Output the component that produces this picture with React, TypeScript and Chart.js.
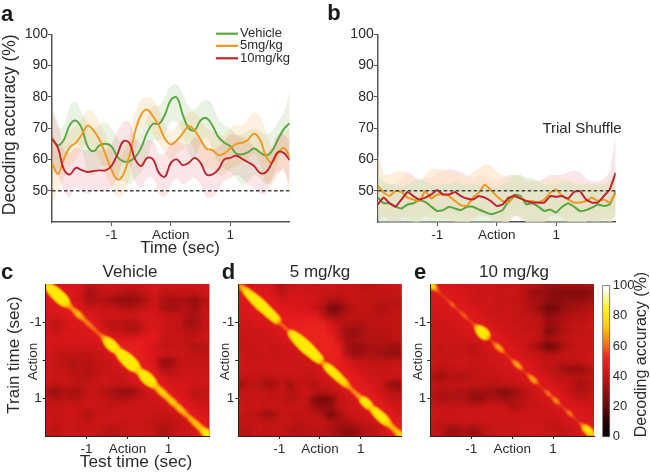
import React, { useEffect, useRef } from "react";
import { Chart, registerables } from "chart.js";

Chart.register(...registerables);

const FONT = "'Liberation Sans', Arial, sans-serif";
const INK = "#2b2b2b";

const times = [-2, -1.9, -1.8, -1.7, -1.6, -1.5, -1.4, -1.3, -1.2, -1.1, -1, -0.9, -0.8, -0.7, -0.6, -0.5, -0.4, -0.3, -0.2, -0.1, 0, 0.1, 0.2, 0.3, 0.4, 0.5, 0.6, 0.7, 0.8, 0.9, 1, 1.1, 1.2, 1.3, 1.4, 1.5, 1.6, 1.7, 1.8, 1.9, 2];
const chance = [50, 50];
const chanceTimes = [-2, 2];
const timeTicks = [-1, 0, 1];
const timeTickLabels = ["-1", "Action", "1"];
const accuracyTicks = [50, 60, 70, 80, 90, 100];
const colorbarTicks = [0, 20, 40, 60, 80, 100];

const seriesNames = ["Vehicle", "5mg/kg", "10mg/kg"];
const seriesColors = ["#58a63f", "#f0981f", "#bf2430"];
const bandColorsA = ["rgba(105,175,75,0.15)", "rgba(250,170,80,0.18)", "rgba(225,70,80,0.14)"];
const bandColorsB = ["rgba(205,228,190,0.5)", "rgba(253,226,196,0.62)", "rgba(240,170,185,0.3)"];

const aVehicle = [66.7, 64.5, 66.3, 71, 72.4, 70, 64.2, 62.6, 64.5, 65, 64.2, 60.8, 59.4, 59.4, 60.7, 63.7, 68.5, 71.4, 71.3, 74.3, 79, 79.8, 74.3, 70, 69.3, 72.5, 73.2, 70.8, 67.2, 65.3, 64.2, 61.9, 61.6, 62.3, 63.5, 62.3, 61.2, 62.6, 66.3, 69.7, 71.6];
const aVehicleUpper = [79, 70, 71, 77, 78.5, 75, 72, 70, 71, 72, 70, 67, 65, 65, 66, 69, 73, 77, 77, 80, 83.5, 84, 81, 77, 76, 78, 79, 77.5, 73, 71, 70, 68, 68, 69, 70, 69, 68, 69, 72, 75, 82];
const aVehicleLower = [55, 57, 60, 64, 65, 63, 56, 55, 57, 58, 56, 53, 53, 52, 54, 56, 60, 66, 66, 68, 72, 72, 68, 62, 60, 65, 67, 63, 59, 57, 56, 54, 52, 53, 55, 54, 52, 54, 59, 63, 60];
const a5mg = [58.9, 55.4, 60.2, 63.9, 65.3, 67.9, 70.8, 69.2, 66.3, 61.6, 56.8, 53.6, 55.2, 61, 69, 74.3, 75.9, 73.8, 70.8, 66.6, 64.8, 66.1, 68.3, 70.6, 69.3, 66.3, 63.4, 63, 61.4, 61.9, 63.5, 65, 65.3, 66.3, 68.2, 66.3, 61, 58.9, 61.9, 63.7, 61];
const a5mgUpper = [70, 63, 66, 69, 71, 73, 76, 75, 72, 68, 63, 60, 62, 68, 75, 79, 80, 79, 76, 71, 69, 71, 73, 75, 75, 73, 70, 69, 68, 68, 70, 71, 71, 73, 75, 74, 69, 64, 67, 69, 70];
const a5mgLower = [46, 50, 54, 58, 60, 63, 65, 63, 60, 55, 51, 48, 49, 54, 63, 69, 71, 68, 65, 62, 60, 62, 63, 66, 63, 60, 57, 57, 55, 55, 57, 58, 59, 60, 62, 59, 53, 52, 55, 57, 47];
const a10mg = [66.7, 63.7, 56.8, 55.2, 57.3, 56.6, 56, 56.3, 56.5, 56.5, 57.9, 61.6, 65.8, 65.3, 60, 57.9, 60.5, 60, 55.7, 54.5, 58.9, 60, 58.2, 58.9, 60.5, 58.9, 55.2, 55.2, 56.8, 60, 60.5, 61.2, 60.2, 59.1, 57.9, 55.7, 55.9, 58.9, 62.3, 62.1, 59.8];
const a10mgUpper = [75, 72, 63, 62, 64, 63, 63, 63, 63, 63, 65, 69, 72, 72, 67, 65, 66, 66, 62, 62, 65, 66, 65, 65, 67, 66, 63, 63, 64, 66, 68, 68, 67, 66, 64, 62, 62, 64, 68, 68, 66];
const a10mgLower = [58, 55, 50, 48, 51, 50, 49, 50, 50, 50, 51, 54, 59, 58, 53, 51, 54, 54, 49, 48, 52, 54, 52, 53, 54, 52, 48, 48, 50, 53, 54, 55, 54, 52, 51, 49, 49, 53, 56, 56, 52];

const bVehicle = [47.8, 46, 46, 44.9, 44.3, 45.6, 46, 47, 46.4, 44.9, 43.5, 43.8, 44.9, 44.3, 43.8, 44.9, 44.9, 44, 43.2, 42.5, 43, 43.8, 46.7, 48.8, 48.3, 45.6, 46, 44.9, 43.5, 44, 43, 44.9, 46, 44.9, 43.5, 43.8, 44.6, 45.6, 45.1, 45.6, 49.9];
const bVehicleUpper = [55, 53, 52, 52, 51, 52, 53, 54, 53, 52, 52, 52, 52, 53, 52, 52, 52, 52, 51, 51, 51, 52, 53, 55, 55, 54, 54, 53, 52, 52, 52, 53, 53, 52, 52, 52, 52, 52, 52, 53, 57];
const bVehicleLower = [38, 38, 38, 38, 38, 38, 39, 40, 39, 38, 37, 37, 38, 37, 37, 38, 38, 37, 37, 36, 37, 37, 40, 42, 42, 40, 40, 39, 38, 38, 37, 39, 40, 39, 37, 38, 39, 40, 39, 39, 42];
const b5mg = [51.7, 49.4, 48.3, 49.9, 49.6, 47.8, 47.2, 46.7, 49.9, 47.5, 48.8, 48.8, 48.3, 46.7, 45.3, 45.1, 47.8, 49.4, 52, 50.2, 48.3, 46.7, 46.2, 48.3, 47.8, 46.7, 46.7, 46.2, 47.2, 49.4, 50.4, 48.3, 47.2, 46.2, 46.2, 46.7, 47.8, 46.7, 47.2, 46.2, 49.4];
const b5mgUpper = [62, 55.5, 55, 56, 56.5, 55.5, 54, 53, 55, 57, 57, 57, 56, 56, 55, 54, 56, 57, 58.5, 58, 56, 55, 54, 55, 55, 53, 53, 53, 53, 54, 54, 54, 54, 53, 53, 52, 52, 52, 53, 53, 55];
const b5mgLower = [42, 42, 42, 42, 42, 41, 40, 40, 42, 41, 41, 41, 41, 40, 39, 39, 41, 42, 44, 43, 41, 40, 40, 42, 42, 40, 40, 40, 40, 42, 43, 41, 40, 40, 40, 40, 41, 40, 41, 40, 42];
const b10mg = [45.6, 47.8, 46, 44.9, 47.2, 49.6, 48.3, 47.2, 47.8, 48.8, 50.2, 48.8, 48.8, 49.6, 48.3, 47.5, 47.2, 48.3, 47.8, 46.7, 45.1, 45.6, 47.8, 48.3, 47.5, 46.7, 46.2, 46.2, 46.2, 48.3, 48.1, 48.3, 47.5, 49.6, 49.9, 47.2, 46.2, 46.2, 48.3, 50.4, 55.7];
const b10mgUpper = [50, 52, 52, 52, 54, 56, 55, 53, 54, 54, 56, 56, 57, 56.5, 56, 55, 54, 55, 55, 54, 53, 54, 55, 55, 54, 53, 53, 53, 54, 55, 55, 55, 56, 56.5, 56, 54, 53, 53, 54, 56, 68];
const b10mgLower = [40, 42, 40, 39, 41, 43, 42, 41, 42, 43, 44, 43, 43, 43, 42, 41, 41, 42, 42, 41, 39, 40, 42, 42, 41, 40, 40, 40, 40, 42, 42, 42, 41, 43, 43, 41, 40, 40, 42, 44, 43];

const vehicleMatrix = [
  [46, 46, 47, 47, 45, 38, 40, 44, 44, 42, 42, 43, 44, 46, 44, 44, 44, 44, 44, 45],
  [50, 50, 47, 47, 45, 33, 39, 42, 40, 38, 37, 38, 42, 46, 40, 40, 41, 42, 40, 44],
  [47, 50, 50, 47, 45, 35, 38, 36, 32, 30, 30, 32, 38, 44, 36, 33, 36, 34, 30, 38],
  [47, 47, 50, 50, 47, 44, 43, 42, 42, 38, 38, 40, 42, 44, 36, 34, 36, 38, 33, 40],
  [46, 46, 48, 50, 50, 47, 46, 44, 46, 45, 45, 46, 48, 46, 44, 42, 42, 36, 36, 42],
  [42, 38, 44, 47, 48, 50, 48, 40, 38, 38, 36, 38, 46, 46, 44, 42, 42, 33, 34, 42],
  [44, 42, 46, 47, 46, 48, 50, 46, 40, 42, 37, 38, 46, 48, 44, 42, 42, 38, 38, 42],
  [46, 46, 46, 47, 46, 46, 48, 51, 50, 48, 48, 50, 50, 50, 42, 42, 44, 40, 42, 44],
  [46, 44, 44, 44, 44, 44, 44, 48, 51, 52, 52, 52, 50, 44, 42, 40, 43, 40, 36, 38],
  [44, 42, 40, 42, 40, 40, 42, 44, 50, 52, 52, 52, 50, 46, 44, 44, 44, 42, 40, 40],
  [44, 42, 40, 36, 40, 38, 42, 42, 44, 50, 52, 52, 50, 46, 30, 32, 40, 42, 42, 42],
  [44, 42, 42, 38, 40, 37, 40, 42, 44, 46, 50, 52, 52, 48, 36, 38, 42, 44, 44, 42],
  [44, 42, 44, 40, 38, 38, 42, 44, 42, 42, 46, 50, 52, 52, 46, 42, 44, 44, 44, 44],
  [42, 40, 42, 42, 40, 42, 44, 44, 42, 42, 44, 46, 50, 52, 50, 46, 46, 46, 44, 44],
  [34, 31, 38, 34, 36, 42, 40, 36, 34, 30, 30, 36, 44, 46, 50, 50, 46, 44, 38, 40],
  [40, 38, 40, 38, 40, 44, 42, 42, 38, 38, 40, 42, 44, 44, 46, 50, 50, 46, 42, 42],
  [42, 42, 44, 44, 42, 44, 44, 42, 42, 44, 44, 44, 44, 42, 44, 46, 50, 50, 46, 44],
  [42, 42, 42, 44, 40, 36, 42, 42, 44, 44, 44, 44, 44, 42, 40, 42, 44, 50, 50, 46],
  [44, 42, 44, 44, 42, 42, 44, 44, 44, 42, 44, 44, 42, 40, 40, 40, 42, 44, 50, 50],
  [40, 38, 42, 42, 42, 42, 42, 38, 36, 40, 42, 42, 42, 40, 34, 38, 42, 44, 46, 50],
];
const mg5Matrix = [
  [50, 46, 46, 46, 44, 36, 42, 44, 42, 42, 42, 44, 42, 42, 42, 38, 38, 40, 42, 42],
  [50, 50, 50, 48, 46, 38, 46, 46, 44, 46, 42, 42, 42, 42, 44, 42, 42, 42, 42, 42],
  [48, 50, 50, 50, 48, 46, 46, 46, 46, 44, 40, 36, 36, 40, 42, 42, 40, 38, 40, 38],
  [46, 48, 50, 50, 50, 50, 48, 46, 46, 42, 36, 24, 26, 36, 40, 42, 40, 36, 38, 40],
  [46, 46, 48, 50, 50, 50, 50, 50, 50, 50, 42, 34, 34, 40, 40, 40, 40, 38, 40, 40],
  [44, 44, 46, 46, 48, 52, 52, 52, 54, 54, 54, 46, 42, 38, 38, 38, 40, 40, 42, 40],
  [44, 44, 44, 44, 46, 48, 52, 54, 54, 54, 54, 50, 40, 32, 30, 36, 38, 38, 38, 40],
  [42, 44, 44, 44, 44, 46, 48, 52, 54, 54, 54, 54, 44, 34, 36, 38, 38, 38, 40, 40],
  [42, 42, 44, 44, 42, 44, 44, 46, 52, 54, 54, 54, 52, 34, 32, 32, 36, 36, 34, 32],
  [44, 42, 42, 44, 42, 42, 44, 44, 46, 50, 54, 54, 52, 38, 30, 34, 36, 34, 32, 30],
  [44, 42, 44, 42, 44, 44, 44, 44, 44, 46, 50, 54, 52, 48, 44, 42, 40, 40, 40, 42],
  [44, 44, 44, 44, 44, 44, 44, 44, 44, 44, 46, 50, 52, 50, 46, 44, 42, 42, 42, 44],
  [42, 42, 42, 40, 42, 42, 42, 44, 40, 44, 44, 46, 50, 52, 50, 46, 44, 44, 44, 42],
  [32, 40, 38, 34, 33, 42, 32, 42, 40, 36, 44, 42, 46, 50, 52, 48, 46, 44, 34, 28],
  [42, 42, 42, 42, 40, 42, 38, 40, 44, 40, 38, 40, 44, 46, 50, 52, 48, 44, 40, 38],
  [42, 42, 42, 42, 42, 42, 36, 42, 42, 26, 24, 26, 40, 44, 46, 50, 52, 48, 44, 42],
  [44, 42, 44, 42, 42, 44, 42, 44, 40, 34, 32, 32, 42, 44, 44, 46, 50, 52, 48, 44],
  [42, 40, 38, 32, 34, 42, 42, 40, 42, 40, 36, 24, 34, 42, 44, 44, 46, 50, 52, 46],
  [40, 42, 42, 42, 40, 42, 42, 38, 40, 42, 42, 38, 36, 36, 40, 42, 42, 46, 50, 52],
  [38, 38, 42, 40, 42, 40, 38, 36, 38, 38, 38, 36, 32, 28, 30, 36, 38, 42, 46, 50],
];
const mg10Matrix = [
  [50, 46, 46, 46, 44, 44, 44, 44, 42, 42, 42, 40, 38, 36, 32, 30, 34, 34, 32, 34],
  [47, 50, 48, 46, 46, 44, 42, 44, 42, 44, 42, 40, 32, 32, 30, 28, 26, 26, 26, 28],
  [46, 47, 50, 48, 46, 44, 44, 46, 42, 42, 42, 40, 36, 36, 30, 30, 32, 32, 32, 34],
  [46, 46, 47, 50, 48, 46, 44, 44, 42, 44, 42, 40, 36, 30, 22, 24, 32, 34, 36, 38],
  [44, 46, 46, 47, 50, 48, 46, 44, 44, 44, 42, 42, 40, 38, 30, 34, 36, 38, 38, 40],
  [42, 44, 44, 46, 47, 50, 48, 46, 44, 44, 42, 42, 42, 40, 32, 34, 38, 40, 40, 42],
  [44, 44, 44, 44, 46, 47, 50, 48, 46, 44, 44, 42, 42, 40, 26, 30, 38, 40, 42, 42],
  [44, 44, 44, 44, 44, 46, 47, 50, 48, 46, 44, 44, 44, 40, 36, 38, 40, 42, 42, 42],
  [42, 40, 42, 44, 42, 38, 44, 46, 50, 48, 46, 44, 36, 32, 20, 26, 36, 40, 42, 42],
  [42, 42, 44, 42, 42, 40, 42, 44, 46, 50, 48, 44, 44, 42, 38, 38, 42, 42, 42, 44],
  [44, 42, 42, 44, 44, 42, 44, 44, 44, 46, 50, 48, 46, 42, 42, 42, 40, 42, 42, 44],
  [42, 40, 40, 42, 42, 40, 42, 42, 44, 44, 46, 50, 48, 44, 40, 38, 32, 30, 30, 36],
  [36, 32, 38, 36, 36, 40, 42, 42, 42, 44, 44, 46, 50, 48, 44, 42, 40, 40, 38, 40],
  [42, 40, 42, 42, 42, 42, 42, 38, 40, 42, 42, 44, 46, 50, 48, 44, 42, 40, 34, 38],
  [38, 36, 38, 36, 36, 32, 34, 34, 30, 26, 32, 38, 42, 46, 50, 48, 44, 40, 36, 40],
  [38, 36, 36, 38, 36, 30, 30, 38, 36, 34, 36, 40, 42, 44, 46, 50, 48, 44, 42, 42],
  [44, 42, 42, 42, 42, 42, 44, 44, 44, 42, 36, 40, 42, 42, 44, 46, 50, 48, 46, 44],
  [44, 44, 44, 44, 44, 44, 44, 44, 44, 44, 44, 44, 44, 44, 44, 44, 46, 50, 48, 46],
  [42, 40, 42, 42, 44, 42, 44, 44, 44, 44, 44, 44, 44, 44, 42, 42, 44, 46, 50, 48],
  [40, 38, 32, 32, 36, 30, 36, 40, 42, 42, 42, 44, 44, 44, 42, 40, 40, 42, 46, 50],
];

// Accuracy along the train = test diagonal, one value every 0.05 s.
const vehicleDiagonal = [66, 74, 80, 84, 86, 88, 88, 88, 88, 86, 78, 72, 68, 66, 68, 70, 72, 70, 68, 66, 64, 66, 64, 62, 62, 60, 60, 62, 66, 72, 78, 84, 85, 84, 82, 76, 78, 84, 87, 89, 90, 90, 90, 88, 82, 76, 74, 78, 84, 87, 87, 86, 82, 76, 72, 72, 74, 74, 74, 72, 72, 72, 74, 72, 70, 72, 72, 70, 70, 68, 68, 70, 70, 72, 72, 72, 72, 74, 78, 80, 82];
const mg5Diagonal = [60, 64, 70, 72, 76, 78, 80, 82, 84, 85, 86, 86, 86, 85, 84, 84, 82, 82, 80, 78, 66, 60, 60, 60, 60, 64, 76, 80, 84, 86, 87, 88, 89, 89, 89, 88, 86, 86, 84, 82, 78, 68, 66, 74, 78, 80, 80, 80, 80, 78, 78, 76, 76, 72, 68, 66, 64, 66, 66, 68, 68, 76, 80, 80, 78, 72, 74, 78, 80, 82, 82, 82, 80, 76, 72, 70, 70, 70, 72, 74, 76];
const mg10Diagonal = [76, 76, 72, 66, 60, 56, 56, 56, 57, 58, 62, 64, 60, 57, 57, 60, 63, 63, 60, 57, 57, 59, 64, 72, 80, 85, 87, 83, 70, 58, 56, 60, 66, 70, 70, 68, 60, 56, 56, 56, 60, 66, 70, 70, 68, 60, 56, 56, 62, 68, 70, 70, 64, 56, 55, 55, 58, 64, 66, 60, 62, 68, 68, 60, 56, 56, 58, 62, 66, 64, 58, 55, 55, 57, 62, 70, 76, 78, 78, 74, 68];

const colorbarLevels = [0, 2, 4, 6, 8, 10, 12, 14, 16, 18, 20, 22, 24, 26, 28, 30, 32, 34, 36, 38, 40, 42, 44, 46, 48, 50, 52, 54, 56, 58, 60, 62, 64, 66, 68, 70, 72, 74, 76, 78, 80, 82, 84, 86, 88, 90, 92, 94, 96, 98, 100];

const colorStops: [number, number, number, number][] = [
  [0, 0, 0, 0], [10, 32, 0, 0], [20, 90, 8, 8], [30, 140, 16, 16], [40, 192, 22, 22], [50, 232, 28, 32],
  [55, 238, 42, 32], [60, 245, 90, 24], [66, 251, 140, 20], [75, 255, 204, 0], [83, 255, 234, 0], [90, 255, 244, 96], [100, 255, 255, 255],
];
function heat(v: number) {
  for (let i = 1; i < colorStops.length; i++) {
    const [b, r1, g1, b1] = colorStops[i];
    if (v <= b) {
      const [a, r0, g0, b0] = colorStops[i - 1];
      const f = (v - a) / (b - a);
      return `rgb(${Math.round(r0 + (r1 - r0) * f)},${Math.round(g0 + (g1 - g0) * f)},${Math.round(b0 + (b1 - b0) * f)})`;
    }
  }
  return "#fff";
}
const ridgeRadius = (v: number, thin: boolean) => thin
  ? 1.2 + Math.pow(Math.max(v - 55, 0) / 32, 2) * 3.6
  : 1.7 + Math.pow(Math.max(v - 58, 0) / 32, 2) * 3.8;

type Note = { text: string; x: number; y: number; size: number; bold?: boolean; rotate?: boolean };

const notesPlugin = (notes: Note[]) => ({
  id: "notes",
  afterDraw(chart: any) {
    const ctx = chart.ctx;
    for (const n of notes) {
      ctx.save();
      ctx.font = `${n.bold ? "bold " : ""}${n.size}px ${FONT}`;
      ctx.fillStyle = n.bold ? "#1a1a1a" : INK;
      ctx.textAlign = "center";
      ctx.textBaseline = "middle";
      ctx.translate(n.x, n.y);
      if (n.rotate) ctx.rotate(-Math.PI / 2);
      ctx.fillText(n.text, 0, 0);
      ctx.restore();
    }
  },
});

const lineLegendPlugin = {
  id: "lineLegend",
  afterDraw(chart: any) {
    const ctx = chart.ctx;
    const rows = [33.7, 45.9, 58.3];
    seriesNames.forEach((name, i) => {
      ctx.save();
      ctx.strokeStyle = seriesColors[i];
      ctx.lineWidth = 2.2;
      ctx.beginPath();
      ctx.moveTo(216, rows[i]);
      ctx.lineTo(238, rows[i]);
      ctx.stroke();
      ctx.font = `13px ${FONT}`;
      ctx.fillStyle = INK;
      ctx.textBaseline = "middle";
      ctx.fillText(name, 240, rows[i]);
      ctx.restore();
    });
  },
};

const blurPlugin = {
  id: "cellBlur",
  beforeDraw(chart: any) {
    const a = chart.chartArea;
    chart.ctx.fillStyle = "#c41a1c";
    chart.ctx.fillRect(a.left, a.top, a.right - a.left, a.bottom - a.top);
  },
  beforeDatasetDraw(chart: any, args: any) {
    chart.ctx.filter = `blur(${chart.data.datasets[args.index].blurPx}px)`;
  },
  afterDatasetDraw(chart: any) {
    chart.ctx.filter = "none";
  },
};

const frameTicks = (names: string[]) => ({
  afterBuildTicks(scale: any) {
    scale.ticks = timeTicks.map((value) => ({ value }));
  },
  ticks: {
    autoSkip: false,
    maxRotation: 0,
    minRotation: 0,
    color: INK,
    font: { family: FONT, size: 13.5 },
    callback: (v: number) => names[timeTicks.indexOf(v)],
  },
});

function lineConfig(series: { line: number[]; upper: number[]; lower: number[] }[], opts: { left: number; right: number; width: number; tension: number; borderW: number; bandColors: string[]; bandOrder: number[]; yTitle?: string; plugins: any[] }) {
  const pts = (vals: number[]) => vals.map((y, i) => ({ x: times[i], y }));
  const lines = [2, 1, 0].map((i) => ({
    label: seriesNames[i],
    data: pts(series[i].line),
    borderColor: seriesColors[i],
    borderWidth: opts.borderW,
    pointRadius: 0,
    tension: opts.tension,
    fill: false,
  }));
  const bands = opts.bandOrder.flatMap((i) => [
    { label: seriesNames[i] + " upper", data: pts(series[i].upper), borderWidth: 0, pointRadius: 0, tension: opts.tension, fill: "+1", backgroundColor: opts.bandColors[i] },
    { label: seriesNames[i] + " lower", data: pts(series[i].lower), borderWidth: 0, pointRadius: 0, tension: opts.tension, fill: false },
  ]);
  const dashed = {
    label: "Chance",
    data: chance.map((y, i) => ({ x: chanceTimes[i], y })),
    borderColor: "#444",
    borderWidth: 1.6,
    borderDash: [3.5, 2.5],
    pointRadius: 0,
    fill: false,
  };
  return {
    type: "line",
    data: { datasets: [dashed, ...lines, ...bands] },
    options: {
      animation: false,
      responsive: false,
      events: [],
      layout: { autoPadding: false, padding: { top: 34.3, right: opts.width - opts.right, left: 0, bottom: 0 } },
      plugins: { legend: { display: false }, tooltip: { enabled: false } },
      scales: {
        x: {
          type: "linear",
          min: -2,
          max: 2,
          afterFit: (s: any) => { s.height = 40; },
          ...frameTicks(timeTickLabels),
          ticks: { ...frameTicks(timeTickLabels).ticks, padding: 1 },
          grid: { drawOnChartArea: false, tickLength: 4, tickColor: "#555" },
          border: { color: "#555", width: 1.5 },
        },
        y: {
          min: 40,
          max: 100,
          afterFit: (s: any) => { s.width = opts.left; },
          afterBuildTicks(scale: any) { scale.ticks = accuracyTicks.map((value) => ({ value })); },
          ticks: { color: INK, padding: 0, font: { family: FONT, size: 14 } },
          grid: { drawOnChartArea: false, tickLength: 4, tickColor: "#555" },
          border: { color: "#555", width: 1.5 },
          title: opts.yTitle
            ? { display: true, text: opts.yTitle, align: "end", color: INK, font: { family: FONT, size: 17.5 }, padding: { top: 0, bottom: 3.5 } }
            : { display: false },
        },
      },
    },
    plugins: opts.plugins,
  };
}

function heatConfig(matrix: number[][], diagonal: number[], left: number, width: number, right: number, notes: Note[], thin = false) {
  const cells: { x: number; y: number }[] = [];
  const cellColors: string[] = [];
  matrix.forEach((row, r) => row.forEach((v, c) => {
    cells.push({ x: -1.9 + c * 0.2, y: -1.9 + r * 0.2 });
    cellColors.push(heat(v));
  }));
  const ridge = diagonal.map((_, i) => ({ x: -2 + i * 0.05, y: -2 + i * 0.05 }));
  return {
    type: "scatter",
    data: {
      datasets: [
        { label: "diagonal core", data: ridge, clip: 0, blurPx: 0.8, pointStyle: "circle", pointBorderWidth: 0, pointRadius: diagonal.map((v) => ridgeRadius(v, thin)), pointBackgroundColor: diagonal.map((v) => heat(Math.min(v + 3, 83))) },
        { label: "diagonal edge", data: ridge, clip: 0, blurPx: 1.2, pointStyle: "circle", pointBorderWidth: 0, pointRadius: diagonal.map((v) => ridgeRadius(v, thin) + 1.1), pointBackgroundColor: diagonal.map((v) => heat(Math.min(v - 12, 66))) },
        { label: "accuracy", data: cells, clip: 0, blurPx: 3, pointStyle: "rect", pointBorderWidth: 0, pointRadius: 7.5, pointBackgroundColor: cellColors },
      ],
    },
    options: {
      animation: false,
      responsive: false,
      events: [],
      layout: { autoPadding: false, padding: { top: 22, right: width - right, left: 0, bottom: 0 } },
      plugins: { legend: { display: false }, tooltip: { enabled: false } },
      scales: {
        x: {
          type: "linear",
          min: -2,
          max: 2,
          afterFit: (s: any) => { s.height = 37; },
          ...frameTicks(timeTickLabels),
          ticks: { ...frameTicks(timeTickLabels).ticks, padding: 2 },
          grid: { drawOnChartArea: false, tickLength: 3, tickColor: "#222", z: 1 },
          border: { color: "#222", width: 1, z: 1 },
        },
        y: {
          type: "linear",
          min: -2,
          max: 2,
          reverse: true,
          afterFit: (s: any) => { s.width = left; },
          ...frameTicks(["-1", "", "1"]),
          ticks: { ...frameTicks(["-1", "", "1"]).ticks, padding: 1 },
          grid: { drawOnChartArea: false, tickLength: 3, tickColor: "#222", z: 1 },
          border: { color: "#222", width: 1, z: 1 },
        },
      },
    },
    plugins: [blurPlugin, notesPlugin(notes)],
  };
}

function colorbarConfig(notes: Note[]) {
  return {
    type: "scatter",
    data: {
      datasets: [{
        label: "Decoding accuracy (%)",
        data: colorbarLevels.map((y) => ({ x: 0, y })),
        clip: 0,
        pointStyle: "rect",
        pointBorderWidth: 0,
        pointRadius: 5,
        pointBackgroundColor: colorbarLevels.map((v) => heat(v)),
      }],
    },
    options: {
      animation: false,
      responsive: false,
      events: [],
      layout: { autoPadding: false, padding: { top: 23.7, left: 6.7, right: 0, bottom: 36.3 } },
      plugins: { legend: { display: false }, tooltip: { enabled: false } },
      scales: {
        x: { display: false, min: -1, max: 1 },
        y: {
          position: "right",
          min: 0,
          max: 100,
          afterFit: (s: any) => { s.width = 40.3; },
          afterBuildTicks(scale: any) { scale.ticks = colorbarTicks.map((value) => ({ value })); },
          ticks: { color: INK, padding: 3, font: { family: FONT, size: 13 } },
          grid: { display: false, drawTicks: false },
          border: { display: false },
        },
      },
    },
    plugins: [
      notesPlugin(notes),
      {
        id: "barFrame",
        afterDatasetsDraw(chart: any) {
          const a = chart.chartArea;
          chart.ctx.save();
          chart.ctx.strokeStyle = "#666";
          chart.ctx.lineWidth = 0.8;
          chart.ctx.strokeRect(a.left, a.top, a.right - a.left, a.bottom - a.top);
          chart.ctx.restore();
        },
      },
    ],
  };
}

const boxes = [
  { left: 0, top: 0, width: 310, height: 262 },
  { left: 320, top: 0, width: 310, height: 262 },
  { left: 0, top: 262, width: 214, height: 211 },
  { left: 214, top: 262, width: 192, height: 211 },
  { left: 408, top: 262, width: 192, height: 211 },
  { left: 596, top: 262, width: 54, height: 211 },
];

export default function App() {
  const refs = useRef<(HTMLCanvasElement | null)[]>([]);

  useEffect(() => {
    const configs: any[] = [
      lineConfig(
        [
          { line: aVehicle, upper: aVehicleUpper, lower: aVehicleLower },
          { line: a5mg, upper: a5mgUpper, lower: a5mgLower },
          { line: a10mg, upper: a10mgUpper, lower: a10mgLower },
        ],
        {
          left: 52, right: 289.7, width: 310, tension: 0.4, borderW: 1.9, bandColors: bandColorsA, bandOrder: [2, 1, 0], yTitle: "Decoding accuracy (%)",
          plugins: [lineLegendPlugin, notesPlugin([
            { text: "a", x: 7, y: 14.5, size: 22, bold: true },
            { text: "Time (sec)", x: 180, y: 248, size: 17 },
          ])],
        },
      ),
      lineConfig(
        [
          { line: bVehicle, upper: bVehicleUpper, lower: bVehicleLower },
          { line: b5mg, upper: b5mgUpper, lower: b5mgLower },
          { line: b10mg, upper: b10mgUpper, lower: b10mgLower },
        ],
        {
          left: 57.7, right: 295.7, width: 310, tension: 0.1, borderW: 2, bandColors: bandColorsB, bandOrder: [0, 1, 2],
          plugins: [notesPlugin([
            { text: "b", x: 14, y: 14, size: 22, bold: true },
            { text: "Trial Shuffle", x: 262, y: 128.7, size: 15 },
          ])],
        },
      ),
      heatConfig(vehicleMatrix, vehicleDiagonal, 45.7, 214, 209.3, [
        { text: "c", x: 7, y: 10.5, size: 22, bold: true },
        { text: "Vehicle", x: 130, y: 10, size: 17 },
        { text: "Train time (sec)", x: 14, y: 93, size: 17, rotate: true },
        { text: "Action", x: 33.3, y: 99.5, size: 13.5, rotate: true },
        { text: "Test time (sec)", x: 136, y: 200.7, size: 17.3 },
      ]),
      heatConfig(mg5Matrix, mg5Diagonal, 24.3, 192, 187.7, [
        { text: "d", x: 14.5, y: 10.5, size: 22, bold: true },
        { text: "5 mg/kg", x: 106, y: 10, size: 17 },
        { text: "Action", x: 11, y: 99.5, size: 13.5, rotate: true },
      ]),
      heatConfig(mg10Matrix, mg10Diagonal, 22.3, 192, 186, [
        { text: "e", x: 12, y: 10.5, size: 22, bold: true },
        { text: "10 mg/kg", x: 106, y: 10, size: 17 },
        { text: "Action", x: 10, y: 99.5, size: 13.5, rotate: true },
      ], true),
      colorbarConfig([{ text: "Decoding accuracy (%)", x: 45.7, y: 92.5, size: 16, rotate: true }]),
    ];
    const charts = configs.map((cfg, i) => new Chart(refs.current[i] as HTMLCanvasElement, cfg));
    return () => charts.forEach((c) => c.destroy());
  }, []);

  return (
    <div style={{ position: "fixed", left: 0, top: 0, width: 650, height: 473, background: "#fff", overflow: "hidden" }}>
      {boxes.map((b, i) => (
        <canvas
          key={i}
          ref={(el) => { refs.current[i] = el; }}
          width={b.width}
          height={b.height}
          style={{ position: "absolute", left: b.left, top: b.top, width: b.width, height: b.height }}
        />
      ))}
    </div>
  );
}
